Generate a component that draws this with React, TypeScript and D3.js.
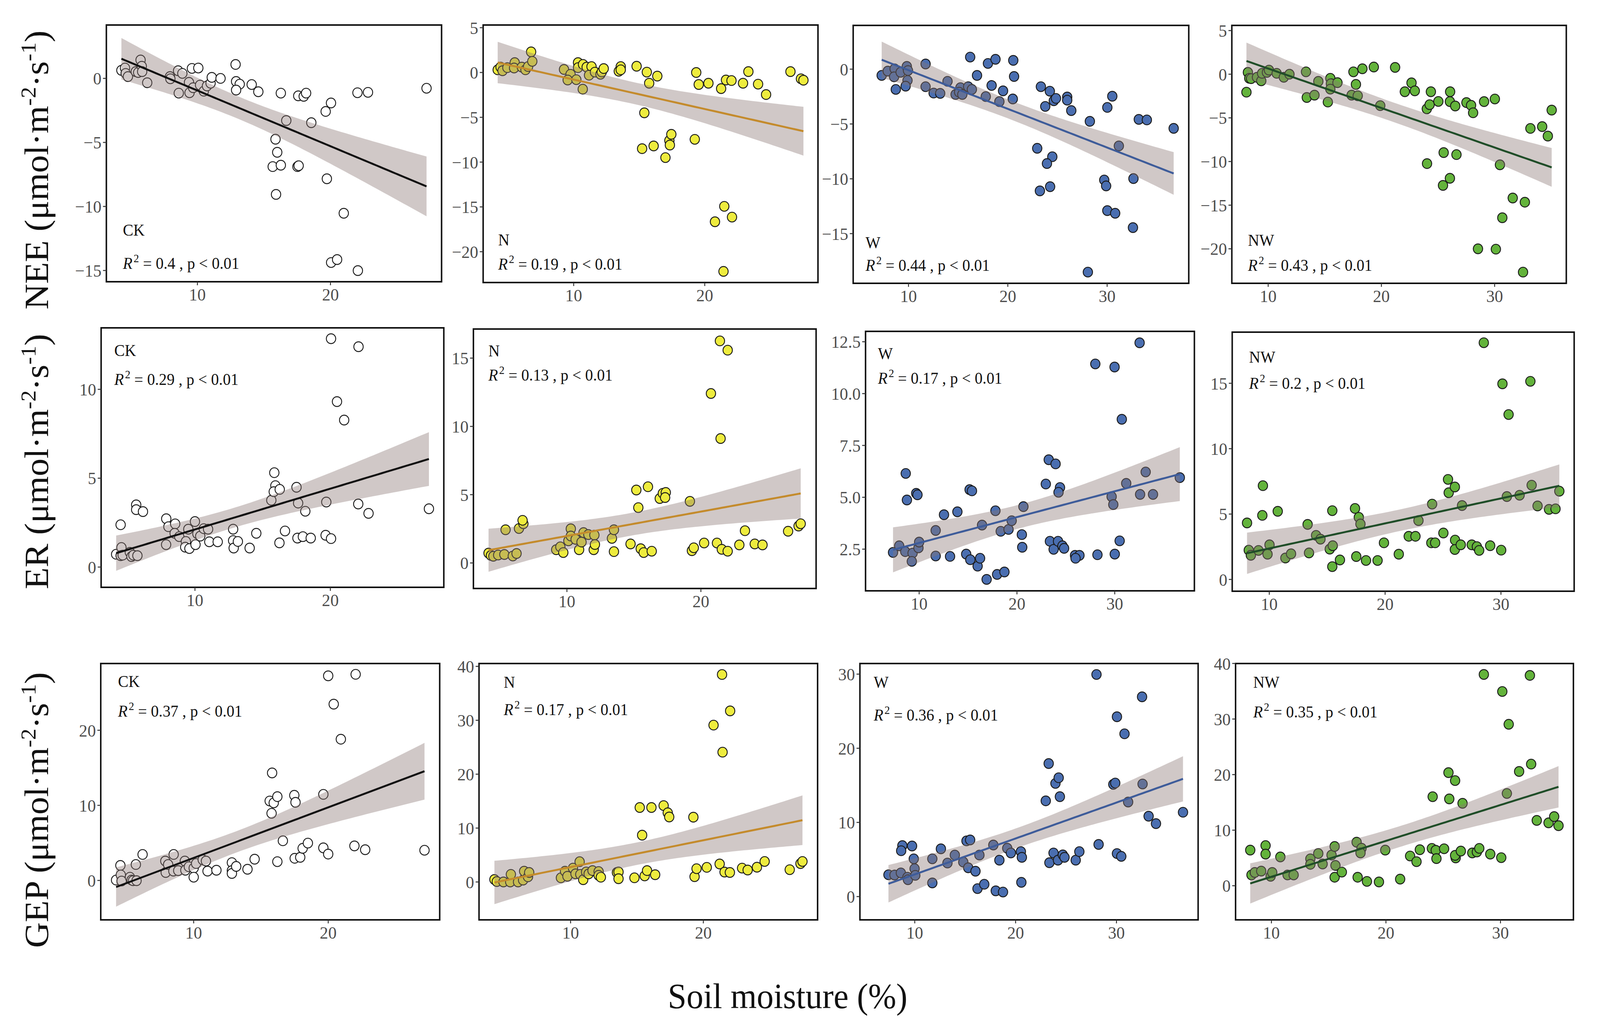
import React, { useEffect } from 'react'
import * as d3 from 'd3'

type Pt = [number, number]

// NEE panels (row 1)
const neeCK: Pt[] = [
  [4.29, 0.63], [4.56, 0.81], [4.61, 0.39], [4.78, 0.14], [5.37, 0.53], [5.55, 0.46], [5.73, 1.44], [5.82, 0.95],
  [5.85, 0.53], [6.23, -0.34], [7.94, 0.14], [7.97, -0.03], [8.55, 0.6], [8.87, 0.39], [8.6, -1.15], [9.37, -0.31],
  [9.41, -1.12], [9.59, 0.78], [10.07, 0.81], [9.68, -0.73], [10.2, -0.52], [10.48, -1.0], [10.72, -0.59], [10.99, -0.38],
  [11.08, 0.08], [11.74, 0.0], [12.87, 1.09], [12.91, -0.24], [13.18, -0.45], [12.91, -0.91], [14.08, -0.48], [14.58, -1.04],
  [16.27, -1.15], [17.58, -1.36], [17.99, -1.4], [18.17, -1.15], [16.68, -3.29], [18.56, -3.46], [19.64, -2.58], [20.04, -1.92],
  [22.03, -1.12], [22.82, -1.09], [27.22, -0.77], [15.87, -4.75], [16.0, -5.77], [15.66, -6.89], [16.27, -6.78], [17.52, -6.89],
  [17.61, -6.82], [15.91, -9.06], [19.73, -7.84], [21.0, -10.53], [20.05, -14.38], [20.5, -14.15], [22.06, -15.01],
]
const neeN: Pt[] = [
  [4.2, 0.3], [4.42, 0.6], [4.57, 0.2], [4.94, 0.54], [5.5, 1.1], [5.45, 0.5], [6.04, 0.6], [6.32, 0.3],
  [6.52, 0.66], [6.75, 2.3], [6.84, 1.24], [9.26, 0.34], [9.76, -0.2], [9.54, -0.84], [10.2, -0.8], [10.33, 1.1],
  [10.33, 0.54], [10.69, -1.86], [10.71, 0.9], [10.99, 0.6], [11.36, 0.66], [11.17, -0.3], [11.62, 0.04], [12.04, -0.2],
  [12.14, 0.06], [12.29, 0.44], [13.44, 0.14], [13.59, 0.66], [13.59, 0.3], [14.8, 0.7], [15.58, 0.04], [15.76, -1.2],
  [16.38, -0.4], [15.39, -4.5], [15.22, -8.5], [16.1, -8.2], [17.0, -9.5], [17.3, -7.6], [17.34, -8.1], [17.45, -6.9],
  [19.24, -7.46], [19.35, 0.0], [19.54, -1.34], [20.28, -1.2], [21.25, -1.8], [21.62, -0.84], [22.04, -0.9], [22.92, -1.2],
  [23.33, 0.1], [24.07, -1.3], [24.68, -2.46], [26.54, 0.1], [27.34, -0.7], [27.53, -0.86], [21.49, -14.94], [22.08, -16.14],
  [20.78, -16.66], [21.43, -22.2],
]
const neeW: Pt[] = [
  [7.3, -0.57], [7.91, -0.18], [8.6, 0.03], [8.55, -0.7], [8.72, -1.85], [9.21, -0.29], [9.83, 0.25], [9.95, -0.13],
  [9.9, -1.03], [9.71, -1.55], [11.72, 0.47], [11.72, -1.6], [12.53, -2.18], [13.19, -2.21], [13.93, -1.11], [14.74, -2.31],
  [15.23, -1.69], [15.1, -2.1], [15.42, -2.31], [16.01, -1.6], [16.38, -1.85], [16.21, 1.1], [16.9, -0.57], [17.78, -2.5],
  [18.0, 0.52], [18.37, -1.49], [18.76, 0.9], [19.15, -2.96], [19.52, -1.98], [20.55, 0.8], [20.63, -0.67], [20.5, -2.72],
  [23.33, -1.6], [24.23, -2.01], [23.77, -3.4], [24.63, -2.88], [24.85, -2.67], [25.98, -2.54], [25.98, -2.83], [26.39, -3.78],
  [28.26, -4.76], [30.02, -3.49], [30.52, -2.47], [31.18, -7.0], [33.19, -4.58], [34.0, -4.63], [36.7, -5.4], [22.96, -7.22],
  [24.48, -7.99], [23.94, -8.61], [23.23, -11.1], [24.26, -10.72], [29.71, -10.11], [29.9, -10.65], [32.65, -9.98], [30.02, -12.9],
  [30.81, -13.14], [32.6, -14.45], [28.06, -18.51],
]
const neeNW: Pt[] = [
  [8.08, -2.06], [8.21, 0.21], [8.33, -0.47], [8.49, -0.51], [9.01, -0.35], [9.39, -0.76], [9.46, 0.1], [9.89, 0.21],
  [10.07, 0.47], [10.75, 0.1], [11.38, -0.35], [11.88, 0.0], [13.34, 0.27], [13.41, -2.67], [14.09, -2.4], [14.43, -0.82],
  [15.27, -3.19], [15.49, -0.47], [15.54, -1.09], [15.49, -1.71], [16.12, -0.97], [17.37, -2.4], [17.91, -2.47], [17.53, 0.27],
  [17.75, -1.17], [18.32, 0.62], [19.33, 0.82], [19.9, -3.6], [21.21, 0.78], [22.07, -2.01], [22.66, -0.99], [22.95, -1.91],
  [24.01, -3.97], [24.26, -3.49], [24.37, -2.01], [25.03, -3.12], [26.07, -2.01], [26.05, -3.14], [26.52, -3.64], [27.51, -3.25],
  [27.92, -3.56], [28.1, -4.42], [29.07, -3.14], [30.02, -2.84], [33.16, -6.21], [34.2, -6.0], [34.7, -7.09], [35.04, -4.11],
  [24.03, -10.24], [25.5, -8.98], [26.63, -9.21], [30.47, -10.38], [26.05, -11.92], [25.44, -12.74], [31.6, -14.18], [32.67, -14.66],
  [30.68, -16.44], [28.53, -20.0], [30.11, -20.04], [32.51, -22.67],
]

// ER panels (row 2)
const erCK: Pt[] = [
  [4.18, 0.72], [4.51, 2.38], [4.57, 1.1], [4.51, 0.64], [4.66, 0.67], [5.19, 0.83], [5.31, 0.59], [5.45, 0.67],
  [5.75, 0.64], [5.66, 3.5], [5.66, 3.23], [6.16, 3.12], [7.88, 2.72], [8.04, 2.27], [8.54, 2.43], [7.87, 1.26],
  [8.5, 1.9], [8.84, 1.71], [9.33, 1.44], [9.28, 1.12], [9.59, 1.04], [9.51, 2.13], [10.0, 2.56], [10.04, 1.26],
  [10.18, 1.87], [10.39, 1.74], [10.65, 2.16], [10.97, 2.13], [11.06, 1.42], [11.68, 1.42], [12.82, 2.13], [12.82, 1.49],
  [12.86, 1.07], [13.17, 1.44], [14.04, 1.07], [14.53, 1.9], [15.64, 3.76], [15.86, 5.31], [15.94, 4.58], [15.82, 4.24],
  [16.26, 4.37], [16.24, 1.36], [16.65, 2.03], [17.5, 4.49], [17.62, 3.6], [18.15, 3.14], [17.57, 1.63], [17.97, 1.71],
  [18.55, 1.63], [19.7, 3.66], [19.65, 1.79], [20.05, 1.6], [20.05, 12.85], [22.08, 12.4], [20.49, 9.31], [21.02, 8.27],
  [22.06, 3.55], [22.82, 3.02], [27.28, 3.28],
]
const erN: Pt[] = [
  [4.15, 0.72], [4.33, 0.55], [4.51, 0.49], [4.87, 0.58], [5.33, 0.62], [5.42, 2.43], [5.96, 0.51], [6.24, 0.69],
  [6.42, 2.52], [6.75, 2.87], [6.69, 3.12], [9.2, 0.97], [9.51, 1.18], [9.73, 0.76], [10.11, 1.62], [10.29, 2.5],
  [10.29, 1.97], [10.65, 1.73], [10.91, 0.97], [11.09, 1.53], [11.24, 2.22], [11.6, 2.08], [12.05, 2.04], [12.0, 0.97],
  [12.09, 1.35], [13.36, 1.8], [13.51, 2.43], [13.51, 0.83], [14.75, 1.39], [15.18, 5.34], [15.33, 4.05], [15.51, 1.04],
  [15.73, 0.76], [16.05, 5.58], [16.33, 0.86], [16.93, 4.72], [17.16, 5.1], [17.38, 5.16], [17.33, 4.79], [19.18, 4.51],
  [19.33, 0.9], [19.47, 1.11], [20.24, 1.46], [20.75, 12.41], [21.2, 1.46], [21.42, 16.26], [21.47, 9.11], [21.56, 1.0],
  [22.0, 15.58], [22.0, 0.86], [22.87, 1.32], [23.29, 2.36], [24.02, 1.39], [24.6, 1.32], [26.51, 2.32], [27.29, 2.7],
  [27.45, 2.87],
]
const erW: Pt[] = [
  [7.33, 2.34], [7.96, 2.66], [8.58, 2.38], [8.63, 6.15], [8.75, 4.87], [9.33, 2.31], [9.25, 1.91], [9.7, 5.19],
  [9.83, 5.12], [9.93, 2.56], [10.0, 2.84], [11.69, 3.4], [11.69, 2.17], [12.54, 4.16], [13.16, 2.15], [13.91, 4.3],
  [14.81, 2.26], [15.16, 5.37], [15.4, 5.31], [15.23, 1.99], [15.98, 1.68], [16.23, 2.06], [16.43, 3.66], [16.9, 1.04],
  [17.8, 4.35], [17.97, 1.28], [18.34, 3.36], [18.72, 1.4], [19.14, 3.45], [19.46, 3.87], [20.5, 3.2], [20.54, 2.59],
  [20.66, 4.55], [22.95, 5.64], [23.25, 6.81], [23.37, 2.88], [23.75, 2.49], [23.95, 6.61], [24.2, 2.88], [24.4, 5.47],
  [24.25, 5.24], [24.65, 2.66], [24.82, 2.54], [25.94, 2.2], [26.39, 2.2], [25.99, 2.06], [28.01, 11.43], [28.23, 2.23],
  [29.68, 5.03], [29.85, 4.65], [29.98, 11.28], [30.0, 2.26], [30.5, 2.9], [30.72, 8.76], [31.17, 5.67], [32.59, 5.14],
  [32.54, 12.45], [33.16, 6.22], [33.91, 5.14], [36.65, 5.95],
]
const erNW: Pt[] = [
  [8.08, 4.32], [8.23, 2.24], [8.41, 1.85], [9.07, 2.22], [9.45, 7.17], [9.4, 4.9], [9.85, 1.93], [10.02, 2.65],
  [10.73, 5.21], [11.39, 1.64], [11.88, 1.96], [13.31, 4.21], [13.43, 2.03], [14.04, 3.37], [14.42, 3.08], [15.22, 2.32],
  [15.48, 2.58], [15.44, 5.26], [15.44, 0.98], [16.1, 1.49], [17.4, 5.43], [17.51, 1.75], [17.73, 4.75], [17.87, 4.24],
  [18.35, 1.45], [19.35, 1.45], [19.9, 2.8], [21.18, 1.93], [22.04, 3.3], [22.62, 3.3], [22.88, 4.5], [23.99, 2.8],
  [24.06, 5.76], [24.32, 2.8], [25.03, 3.55], [25.43, 7.65], [25.49, 6.63], [26.02, 7.07], [26.04, 3.01], [26.02, 2.29],
  [26.53, 2.65], [26.64, 5.65], [27.48, 2.65], [27.92, 2.51], [28.12, 2.22], [28.52, 18.1], [29.07, 2.58], [30.02, 2.24],
  [30.13, 14.96], [30.51, 6.34], [30.66, 12.61], [31.61, 6.44], [32.54, 15.15], [32.65, 7.21], [33.16, 5.62], [34.15, 5.36],
  [34.71, 5.4], [35.04, 6.75],
]

// GEP panels (row 3)
const gepCK: Pt[] = [
  [4.23, 0.05], [4.55, 2.0], [4.58, 0.73], [4.64, -0.08], [5.26, 0.43], [5.38, 0.05], [5.49, -0.03], [5.7, 2.12],
  [5.75, -0.03], [6.2, 3.46], [7.89, 2.58], [7.92, 1.06], [8.1, 2.12], [8.51, 3.46], [8.49, 1.24], [8.85, 1.31],
  [9.34, 2.58], [9.38, 1.36], [9.64, 1.82], [10.0, 1.64], [10.0, 0.43], [10.18, 2.25], [10.67, 2.75], [10.91, 2.58],
  [11.03, 1.24], [11.69, 1.36], [12.84, 2.37], [12.84, 1.31], [12.84, 0.93], [13.16, 1.87], [14.0, 1.49], [14.53, 2.83],
  [15.83, 14.32], [15.65, 10.58], [15.95, 10.33], [16.22, 11.16], [15.79, 8.94], [16.22, 2.5], [16.63, 5.28], [17.48, 11.34],
  [17.57, 10.4], [17.51, 2.95], [17.92, 3.08], [18.1, 4.27], [18.49, 4.97], [19.64, 11.46], [19.64, 4.34], [20.0, 3.51],
  [20.0, 27.25], [20.41, 23.48], [20.94, 18.81], [22.04, 27.45], [21.95, 4.6], [22.75, 4.09], [27.16, 4.02],
]
const gepN: Pt[] = [
  [4.26, 0.46], [4.44, 0.07], [4.94, 0.0], [5.45, 0.0], [5.5, 1.41], [6.04, 0.0], [6.42, 0.35], [6.5, 2.0],
  [6.79, 0.95], [6.88, 1.76], [9.27, 0.77], [9.58, 2.0], [9.76, 1.05], [10.18, 2.57], [10.37, 1.51], [10.68, 3.76],
  [10.73, 1.41], [10.95, 0.42], [11.17, 1.86], [11.36, 1.51], [11.65, 2.11], [12.11, 1.93], [12.11, 1.23], [12.28, 0.88],
  [13.49, 1.76], [13.61, 1.86], [13.61, 0.6], [14.81, 0.77], [15.21, 13.81], [15.39, 8.68], [15.58, 1.12], [15.76, 2.11],
  [16.09, 13.81], [16.37, 1.34], [17.01, 14.17], [17.32, 12.83], [17.43, 12.06], [19.25, 12.02], [19.34, 0.98], [19.49, 2.46],
  [20.26, 2.71], [20.77, 29.1], [21.23, 3.34], [21.41, 38.49], [21.45, 24.08], [21.6, 1.83], [22.02, 31.74], [22.0, 1.76],
  [22.92, 2.57], [23.34, 2.21], [24.04, 2.74], [24.62, 3.8], [26.51, 2.28], [27.32, 3.41], [27.47, 3.8],
]
const gepW: Pt[] = [
  [7.39, 2.94], [7.99, 2.91], [8.62, 3.19], [8.77, 6.87], [8.65, 6.18], [9.27, 2.61], [9.32, 2.27], [9.73, 6.82],
  [9.9, 5.09], [9.98, 3.76], [10.05, 2.86], [11.74, 5.09], [11.74, 1.84], [12.59, 6.44], [13.24, 4.52], [13.97, 5.6],
  [14.81, 4.65], [15.13, 7.51], [15.49, 7.64], [15.3, 3.88], [16.02, 3.42], [16.22, 1.07], [16.41, 5.6], [16.89, 1.66],
  [17.79, 6.95], [18.03, 0.77], [18.39, 4.91], [18.75, 0.61], [19.17, 6.52], [19.53, 5.88], [20.52, 6.06], [20.62, 5.29],
  [20.57, 1.92], [22.99, 12.91], [23.28, 17.94], [23.35, 4.57], [23.76, 5.88], [23.95, 15.26], [24.27, 16.02], [24.2, 4.91],
  [24.39, 13.47], [24.68, 5.62], [24.85, 5.29], [25.96, 4.91], [26.32, 6.06], [28.02, 29.95], [28.23, 7.03], [29.69, 15.13],
  [29.88, 15.31], [30.05, 24.25], [30.05, 5.8], [30.48, 5.42], [30.8, 21.95], [31.16, 12.75], [32.59, 15.18], [32.54, 26.94],
  [33.19, 10.84], [33.92, 9.84], [36.6, 11.37],
]
const gepNW: Pt[] = [
  [8.15, 6.41], [8.26, 1.94], [8.55, 2.39], [9.11, 2.63], [9.49, 7.23], [9.49, 5.69], [9.93, 1.7], [10.07, 2.39],
  [10.78, 5.18], [11.41, 1.94], [11.94, 1.94], [13.4, 4.84], [13.4, 3.85], [14.09, 5.8], [14.47, 3.92], [15.25, 5.52],
  [15.52, 7.06], [15.59, 3.65], [15.52, 1.53], [16.15, 2.45], [17.44, 7.84], [17.87, 6.75], [17.78, 5.9], [17.53, 1.53],
  [18.34, 0.78], [19.39, 0.68], [19.94, 6.41], [21.24, 1.19], [22.11, 5.35], [22.67, 4.33], [22.96, 6.48], [24.01, 6.72],
  [24.35, 6.38], [24.41, 4.88], [24.08, 16.02], [25.08, 6.65], [25.46, 20.35], [25.53, 15.62], [26.04, 18.92], [26.09, 5.01],
  [26.04, 5.46], [26.54, 6.24], [26.69, 14.83], [27.54, 5.9], [27.94, 6.07], [28.15, 6.72], [28.55, 38.02], [29.11, 5.69],
  [30.07, 5.05], [30.16, 34.95], [30.72, 29.05], [30.56, 16.6], [31.63, 20.56], [32.57, 37.85], [32.68, 21.89], [33.17, 11.76],
  [34.2, 11.32], [34.69, 12.44], [35.07, 10.81],
]

const series: Pt[][][] = [
  [neeCK, neeN, neeW, neeNW],
  [erCK, erN, erW, erNW],
  [gepCK, gepN, gepW, gepNW],
]

const treatments = ['CK', 'N', 'W', 'NW']
const rowTitles = ['NEE', 'ER', 'GEP']
const r2Values = [
  ['0.4', '0.19', '0.44', '0.43'],
  ['0.29', '0.13', '0.17', '0.2'],
  ['0.37', '0.17', '0.36', '0.35'],
]
const xTicks = [[10, 20], [10, 20], [10, 20, 30], [10, 20, 30]]
const yTicks = [
  [[0, -5, -10, -15], [5, 0, -5, -10, -15, -20], [0, -5, -10, -15], [5, 0, -5, -10, -15, -20]],
  [[0, 5, 10], [0, 5, 10, 15], [2.5, 5, 7.5, 10, 12.5], [0, 5, 10, 15]],
  [[0, 10, 20], [0, 10, 20, 30, 40], [0, 10, 20, 30], [0, 10, 20, 30, 40]],
]

// axis limits as drawn in the picture
const xDomains = [
  [[3.16, 28.35], [3.09, 28.64], [4.43, 38.22], [6.79, 36.33]],
  [[3.07, 28.38], [3.02, 28.6], [4.52, 38.14], [6.8, 36.32]],
  [[3.09, 28.29], [3.1, 28.61], [4.56, 38.1], [6.87, 36.37]],
]
const yDomains = [
  [[-15.88, 4.17], [-23.44, 5.3], [-19.53, 3.99], [-23.95, 5.59]],
  [[-1.14, 13.46], [-1.87, 17.13], [0.49, 13.0], [-0.9, 18.91]],
  [[-5.25, 28.89], [-7.03, 40.53], [-3.14, 31.43], [-6.14, 39.99]],
]

// layout: panel boxes [left, right, top, bottom] in px
const boxes = [
  [[284, 1179, 64, 721], [1290, 2184, 64, 723], [2278, 3174, 65, 725], [3289, 4182, 65, 725]],
  [[270, 1185, 839, 1503], [1264, 2179, 842, 1506], [2311, 3189, 848, 1512], [3290, 4203, 850, 1513]],
  [[269, 1174, 1698, 2354], [1279, 2183, 1698, 2354], [2296, 3199, 1698, 2354], [3299, 4201, 1698, 2354]],
]
// [left offset, label baseline, R2 baseline]
const notes = [
  [[44, 603, 688], [40, 628, 690], [33, 635, 693], [43, 629, 693]],
  [[35, 911, 985], [40, 912, 974], [33, 919, 982], [45, 928, 995]],
  [[46, 1758, 1834], [66, 1760, 1830], [37, 1760, 1844], [47, 1760, 1836]],
]
const titleCentres = [435, 1181, 2073]

const pointFills = ['#ffffff', '#eeec3e', '#4a6eb0', '#63b33b']
const lineColors = ['#111111', '#c48b2c', '#3e5c9a', '#1f4d28']
const FONT = '"Liberation Serif", "Times New Roman", serif'

function fitLm(pts: Pt[]) {
  const n = pts.length
  const mx = d3.mean(pts, (d) => d[0])!
  const my = d3.mean(pts, (d) => d[1])!
  let sxx = 0
  let sxy = 0
  for (const [x, y] of pts) {
    sxx += (x - mx) ** 2
    sxy += (x - mx) * (y - my)
  }
  const b = sxy / sxx
  const a = my - b * mx
  let sse = 0
  for (const [x, y] of pts) sse += (y - a - b * x) ** 2
  const s = Math.sqrt(sse / (n - 2))
  const t = 1.96 + 2.4 / (n - 2)
  const [x0, x1] = d3.extent(pts, (d) => d[0]) as [number, number]
  return d3.range(80).map((i) => {
    const x = x0 + ((x1 - x0) * i) / 79
    const yh = a + b * x
    const se = s * Math.sqrt(1 / n + (x - mx) ** 2 / sxx)
    return { x, y: yh, lo: yh - t * se, hi: yh + t * se }
  })
}

function Panel({ row, col }: { row: number; col: number }) {
  const [l, r, t, b] = boxes[row][col]
  const pts = series[row][col]
  const xs = d3.scaleLinear().domain(xDomains[row][col]).range([l, r])
  const ys = d3.scaleLinear().domain(yDomains[row][col]).range([b, t])
  const fit = fitLm(pts)
  const area = d3
    .area<{ x: number; lo: number; hi: number }>()
    .x((d) => xs(d.x))
    .y0((d) => ys(d.lo))
    .y1((d) => ys(d.hi))
  const line = d3
    .line<{ x: number; y: number }>()
    .x((d) => xs(d.x))
    .y((d) => ys(d.y))
  const fmt = row === 1 && col === 2 ? d3.format('.1f') : d3.format('d')
  const [dx, labY, r2Y] = notes[row][col]

  return (
    <g>
      <rect x={l} y={t} width={r - l} height={b - t} fill="#ffffff" />
      {pts.map(([x, y], i) => (
        <circle key={i} cx={xs(x)} cy={ys(y)} r={12.5} fill={pointFills[col]} stroke="#1a1a1a" strokeWidth={2.4} />
      ))}
      <path d={area(fit)!} fill="#8a7672" fillOpacity={0.4} />
      <path d={line(fit)!} fill="none" stroke={lineColors[col]} strokeWidth={5} />
      <rect x={l} y={t} width={r - l} height={b - t} fill="none" stroke="#111111" strokeWidth={4} />
      {yTicks[row][col].map((v) => (
        <g key={v}>
          <line x1={l - 9} x2={l} y1={ys(v)} y2={ys(v)} stroke="#333333" strokeWidth={2.5} />
          <text x={l - 13} y={ys(v)} dy="0.35em" textAnchor="end" fontSize={45} fill="#4d4d4d" fontFamily={FONT}>
            {fmt(v)}
          </text>
        </g>
      ))}
      {xTicks[col].map((v) => (
        <g key={v}>
          <line x1={xs(v)} x2={xs(v)} y1={b} y2={b + 9} stroke="#333333" strokeWidth={2.5} />
          <text x={xs(v)} y={b + 48} textAnchor="middle" fontSize={45} fill="#4d4d4d" fontFamily={FONT}>
            {v}
          </text>
        </g>
      ))}
      <text x={l + dx} y={labY} fontSize={42} fill="#111111" fontFamily={FONT}>
        {treatments[col]}
      </text>
      <text x={l + dx} y={r2Y} fontSize={42} fill="#111111" fontFamily={FONT}>
        <tspan fontStyle="italic">R</tspan>
        <tspan dy={-17} fontSize={29} dx={3}>2</tspan>
        <tspan dy={17}>{` = ${r2Values[row][col]} , p < 0.01`}</tspan>
      </text>
    </g>
  )
}

function RowTitle({ row }: { row: number }) {
  const cy = titleCentres[row]
  return (
    <text
      transform={`translate(128,${cy}) rotate(-90)`}
      textAnchor="middle"
      fontSize={91}
      fill="#111111"
      fontFamily={FONT}
    >
      {`${rowTitles[row]} (μmol·m`}
      <tspan dy={-33} fontSize={58}>-2</tspan>
      <tspan dy={33}>·s</tspan>
      <tspan dy={-33} fontSize={58}>-1</tspan>
      <tspan dy={33}>)</tspan>
    </text>
  )
}

export default function App() {
  useEffect(() => {
    document.body.style.margin = '0'
    document.body.style.overflow = 'hidden'
  }, [])
  return (
    <svg
      viewBox="0 0 4272 2641"
      preserveAspectRatio="none"
      style={{ display: 'block', width: '100vw', height: '100vh', background: '#ffffff' }}
    >
      <rect width={4272} height={2641} fill="#ffffff" />
      {rowTitles.map((_, row) => (
        <g key={row}>
          <RowTitle row={row} />
          {treatments.map((_, col) => (
            <Panel key={col} row={row} col={col} />
          ))}
        </g>
      ))}
      <text x={2103} y={2580} textAnchor="middle" fontSize={90} fill="#111111" fontFamily={FONT}>
        Soil moisture (%)
      </text>
    </svg>
  )
}
